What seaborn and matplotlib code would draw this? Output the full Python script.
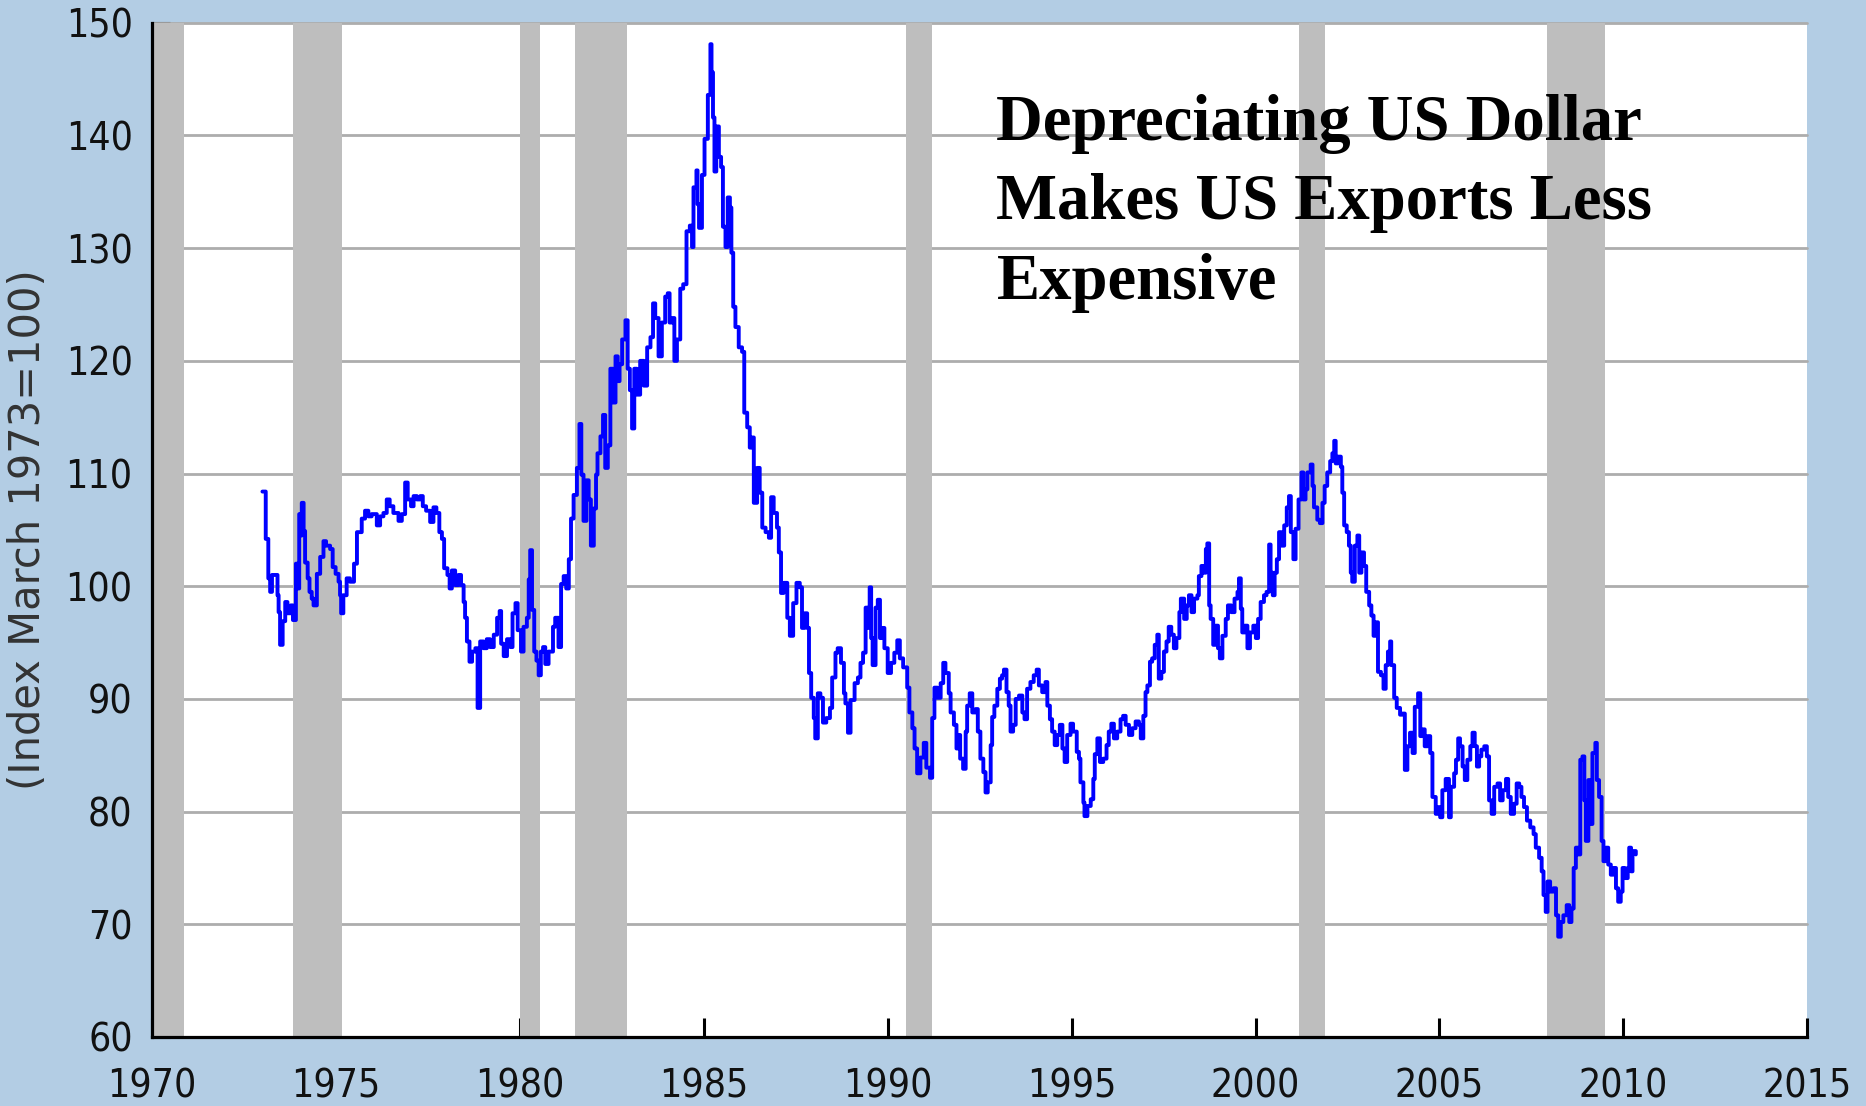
import matplotlib
matplotlib.use("Agg")
import numpy as np
import pandas as pd
import seaborn as sns
from matplotlib import pyplot as plt

# trade weighted dollar index (decimal year, index value)
years = [
    1973.00, 1973.07, 1973.09, 1973.16, 1973.21, 1973.26, 1973.35, 1973.41, 1973.44, 1973.48,
    1973.55, 1973.62, 1973.68, 1973.77, 1973.83, 1973.91, 1973.95, 1974.00, 1974.04, 1974.07,
    1974.12, 1974.16, 1974.23, 1974.28, 1974.34, 1974.39, 1974.48, 1974.57, 1974.66, 1974.73,
    1974.84, 1974.91, 1974.99, 1975.07, 1975.11, 1975.14, 1975.20, 1975.29, 1975.38, 1975.49,
    1975.57, 1975.70, 1975.79, 1975.88, 1975.97, 1976.11, 1976.20, 1976.29, 1976.38, 1976.46,
    1976.56, 1976.70, 1976.79, 1976.88, 1976.95, 1977.04, 1977.11, 1977.20, 1977.29, 1977.36,
    1977.45, 1977.56, 1977.65, 1977.73, 1977.81, 1977.88, 1977.94, 1978.03, 1978.09, 1978.15,
    1978.24, 1978.33, 1978.40, 1978.47, 1978.51, 1978.56, 1978.63, 1978.70, 1978.79, 1978.85,
    1978.92, 1979.01,
    1979.10, 1979.19, 1979.29, 1979.38, 1979.45, 1979.49, 1979.56, 1979.65, 1979.74, 1979.80,
    1979.88, 1979.94, 1980.03, 1980.10, 1980.19, 1980.24, 1980.28, 1980.33, 1980.39, 1980.45,
    1980.51, 1980.57, 1980.63, 1980.69, 1980.78, 1980.90, 1980.96, 1981.05, 1981.12, 1981.19,
    1981.26, 1981.33, 1981.39, 1981.46, 1981.55, 1981.62, 1981.67, 1981.73, 1981.81, 1981.87,
    1981.93, 1982.01, 1982.07, 1982.11, 1982.19, 1982.26, 1982.32, 1982.39, 1982.46, 1982.53,
    1982.60, 1982.66, 1982.71, 1982.78, 1982.87, 1982.93, 1982.99, 1983.05, 1983.11, 1983.18,
    1983.27, 1983.37, 1983.46, 1983.55, 1983.62, 1983.68, 1983.77, 1983.86, 1983.95, 1984.02,
    1984.07, 1984.14, 1984.20, 1984.27, 1984.36, 1984.44, 1984.53, 1984.62, 1984.68, 1984.72,
    1984.80, 1984.83, 1984.87, 1984.95, 1985.02, 1985.11, 1985.18,
    1985.21, 1985.25, 1985.29, 1985.34, 1985.41, 1985.47, 1985.52, 1985.59, 1985.65, 1985.71,
    1985.75, 1985.80, 1985.86, 1985.95, 1986.04, 1986.10, 1986.18, 1986.25, 1986.31, 1986.36,
    1986.45, 1986.52, 1986.59, 1986.68, 1986.77, 1986.83, 1986.90, 1986.99, 1987.04, 1987.10,
    1987.17, 1987.27, 1987.34, 1987.43, 1987.52, 1987.61, 1987.67, 1987.74, 1987.81, 1987.86,
    1987.92, 1987.99, 1988.03, 1988.10, 1988.17, 1988.24, 1988.33, 1988.43, 1988.49, 1988.58,
    1988.64, 1988.73, 1988.81, 1988.85, 1988.92, 1988.99, 1989.10, 1989.19, 1989.26, 1989.33,
    1989.40, 1989.46, 1989.51, 1989.55, 1989.59, 1989.67, 1989.73, 1989.79, 1989.85, 1989.91,
    1990.00, 1990.09, 1990.18, 1990.26, 1990.33, 1990.42, 1990.53, 1990.59, 1990.67, 1990.73,
    1990.80, 1990.89, 1990.98, 1991.05, 1991.15, 1991.21, 1991.27, 1991.35, 1991.44, 1991.51,
    1991.57, 1991.66,
    1991.71, 1991.80, 1991.87, 1991.93, 1991.97, 1992.05, 1992.12, 1992.16, 1992.23, 1992.30,
    1992.39, 1992.45, 1992.52, 1992.60, 1992.66, 1992.72, 1992.80, 1992.84, 1992.90, 1992.98,
    1993.05, 1993.11, 1993.16, 1993.23, 1993.29, 1993.34, 1993.41, 1993.48, 1993.57, 1993.66,
    1993.72, 1993.79, 1993.88, 1993.97, 1994.05, 1994.11, 1994.20, 1994.29, 1994.34, 1994.41,
    1994.47, 1994.54, 1994.61, 1994.68, 1994.75, 1994.81, 1994.88, 1994.97, 1995.04, 1995.14,
    1995.20, 1995.24, 1995.32, 1995.35, 1995.43, 1995.52, 1995.59, 1995.63, 1995.70, 1995.77,
    1995.86, 1995.95, 1996.01, 1996.08, 1996.15, 1996.24, 1996.33, 1996.40, 1996.47, 1996.56,
    1996.65, 1996.74, 1996.83, 1996.88, 1996.95, 1997.01, 1997.06, 1997.13, 1997.19, 1997.26,
    1997.33, 1997.37, 1997.44, 1997.51, 1997.58, 1997.64, 1997.71, 1997.78, 1997.85, 1997.93,
    1997.97, 1998.06, 1998.13, 1998.19, 1998.26, 1998.33, 1998.42, 1998.46, 1998.53, 1998.58,
    1998.65, 1998.69, 1998.74, 1998.78, 1998.85, 1998.92, 1998.98, 1999.03, 1999.10, 1999.19,
    1999.25, 1999.34, 1999.43, 1999.51, 1999.55, 1999.60, 1999.64, 1999.71, 1999.78, 1999.85,
    1999.94, 2000.01, 2000.07, 2000.14, 2000.23, 2000.30, 2000.37, 2000.41, 2000.47, 2000.52,
    2000.58, 2000.64, 2000.70, 2000.78, 2000.85, 2000.91, 2000.96, 2001.03, 2001.09, 2001.17,
    2001.25, 2001.30, 2001.36, 2001.41, 2001.50, 2001.55, 2001.59, 2001.68, 2001.75, 2001.82,
    2001.88, 2001.95, 2002.03, 2002.09, 2002.14, 2002.18, 2002.24, 2002.32, 2002.36, 2002.41,
    2002.48, 2002.54, 2002.59, 2002.63, 2002.70, 2002.77, 2002.82, 2002.88, 2002.95, 2003.01,
    2003.09, 2003.15, 2003.21, 2003.27, 2003.33, 2003.41, 2003.48, 2003.54, 2003.60, 2003.66,
    2003.69, 2003.77, 2003.84, 2003.93,
    2003.99, 2004.06, 2004.13, 2004.20, 2004.27, 2004.33, 2004.42, 2004.48, 2004.54, 2004.60,
    2004.68, 2004.75, 2004.81, 2004.90, 2004.97, 2005.02, 2005.08, 2005.17, 2005.26, 2005.31,
    2005.40, 2005.45, 2005.51, 2005.56, 2005.63, 2005.69, 2005.76, 2005.84, 2005.90, 2005.96,
    2006.02, 2006.08, 2006.14, 2006.22, 2006.29, 2006.35, 2006.42, 2006.49, 2006.58, 2006.65,
    2006.72, 2006.81, 2006.87, 2006.94, 2007.03, 2007.10, 2007.17, 2007.23, 2007.30, 2007.38,
    2007.47, 2007.56, 2007.62, 2007.71, 2007.78, 2007.83, 2007.89, 2007.94, 2008.01, 2008.10,
    2008.17, 2008.23, 2008.30, 2008.37, 2008.46, 2008.53, 2008.59, 2008.65, 2008.71, 2008.77,
    2008.83, 2008.89, 2008.94, 2008.98, 2009.05, 2009.10, 2009.16, 2009.24, 2009.28, 2009.34,
    2009.41, 2009.46, 2009.53, 2009.59, 2009.66, 2009.73, 2009.80, 2009.86, 2009.93, 2009.98,
    2010.04, 2010.12, 2010.16, 2010.21, 2010.25, 2010.34,
]
index_vals = [
    108.4, 108.4, 104.2, 100.7, 99.5, 101.0, 101.0, 99.2, 97.7, 94.8,
    96.9, 98.6, 97.6, 98.3, 97.0, 102.0, 99.8, 106.4, 104.5, 107.4,
    104.9, 102.1, 100.7, 99.5, 98.9, 98.3, 101.1, 102.6, 104.0, 103.6,
    103.3, 101.7, 101.1, 100.4, 99.2, 97.6, 99.2, 100.7, 100.4, 102.0,
    104.8, 106.0, 106.7, 106.2, 106.4, 105.4, 106.2, 106.5, 107.7, 107.1,
    106.5, 105.8, 106.4, 109.2, 107.7, 107.1, 108.0, 107.7, 108.0, 107.1,
    106.7, 105.7, 107.0, 106.5, 104.8, 104.2, 101.6, 101.0, 99.8, 101.4,
    100.1, 101.0, 100.1, 98.6, 97.2, 95.1, 93.3, 94.2, 94.5, 89.2,
    95.1, 94.5,
    95.3, 94.6, 95.7, 97.2, 97.8, 94.9, 93.8, 95.3, 94.6, 97.6,
    98.5, 96.1, 94.2, 96.4, 97.2, 100.6, 103.2, 97.9, 94.2, 93.4,
    92.1, 94.2, 94.6, 93.1, 94.2, 96.4, 97.2, 94.6, 100.2, 100.9,
    99.8, 102.4, 106.0, 108.1, 110.5, 114.4, 109.9, 105.8, 109.4, 107.7,
    103.6, 106.9, 109.9, 111.8, 113.3, 115.2, 110.5, 112.5, 119.3, 116.3,
    120.4, 118.2, 119.7, 121.9, 123.6, 119.3, 117.4, 114.0, 119.3, 117.0,
    120.0, 117.8, 121.2, 122.1, 125.1, 123.8, 120.4, 123.4, 125.7, 126.0,
    123.4, 123.8, 120.0, 121.9, 126.4, 126.8, 131.5, 132.0, 130.1, 135.4,
    136.9, 133.9, 131.8, 136.5, 139.7, 143.6, 148.1,
    145.6, 141.6, 136.8, 140.8, 138.1, 137.2, 131.9, 130.1, 134.5, 133.6,
    129.6, 124.8, 123.0, 121.2, 120.8, 115.4, 114.1, 112.3, 113.2, 107.4,
    110.5, 108.3, 105.2, 104.8, 104.3, 107.9, 106.5, 105.2, 103.0, 99.4,
    100.3, 97.2, 95.6, 98.5, 100.3, 99.9, 96.3, 97.6, 96.3, 92.3,
    90.1, 88.3, 86.5, 90.5, 90.1, 87.9, 88.3, 89.2, 91.9, 94.1,
    94.5, 93.2, 90.5, 89.6, 87.0, 89.9, 91.4, 91.9, 93.2, 94.1,
    98.1, 96.3, 99.9, 95.4, 93.0, 98.1, 98.8, 95.4, 96.3, 94.5,
    92.3, 93.2, 94.1, 95.2, 93.6, 92.8, 91.0, 88.8, 87.4, 85.6,
    83.4, 84.8, 86.1, 83.9, 83.0, 88.3, 91.0, 90.1, 91.4, 93.2,
    92.3, 90.5,
    88.8, 87.7, 85.6, 86.8, 84.7, 83.8, 87.1, 89.4, 90.5, 88.8,
    89.1, 87.1, 84.7, 83.5, 81.7, 82.6, 85.9, 88.4, 89.4, 90.9,
    91.8, 92.1, 92.6, 90.6, 89.4, 87.1, 87.7, 90.0, 90.3, 88.8,
    88.2, 90.9, 91.5, 92.1, 92.6, 91.2, 90.6, 91.5, 89.4, 88.2,
    87.1, 85.9, 86.8, 87.7, 85.6, 84.4, 86.8, 87.8, 87.1, 85.3,
    84.7, 82.6, 80.8, 79.6, 80.5, 81.1, 82.9, 85.1, 86.5, 84.4,
    84.7, 85.9, 87.1, 87.8, 86.5, 87.1, 88.2, 88.5, 87.7, 86.8,
    87.4, 88.0, 87.7, 86.5, 88.5, 90.6, 91.2, 93.3, 93.6, 94.8,
    95.7, 91.8, 92.4, 94.2, 95.1, 96.4, 95.7, 94.5, 95.4, 97.7,
    98.9, 97.1, 98.3, 99.2, 97.7, 98.9, 99.2, 100.9, 101.8, 101.2,
    103.3, 103.8, 98.3, 97.1, 94.8, 96.5, 94.5, 93.6, 95.6, 97.1,
    98.3, 97.7, 98.9, 99.5, 100.7, 98.0, 95.9, 96.5, 94.5, 95.9,
    96.5, 95.4, 97.1, 98.6, 99.2, 99.5, 103.7, 101.2, 99.2, 101.2,
    102.4, 104.8, 103.6, 105.4, 107.0, 108.0, 104.8, 102.4, 105.1, 107.7,
    110.1, 107.7, 108.6, 110.1, 110.8, 108.9, 107.0, 105.9, 105.6, 107.4,
    108.9, 110.1, 111.1, 111.8, 112.9, 110.9, 111.5, 110.6, 108.3, 105.4,
    104.8, 103.6, 101.2, 100.4, 103.6, 104.5, 101.2, 103.0, 101.8, 99.5,
    98.3, 97.4, 95.6, 96.8, 92.4, 92.1, 90.9, 93.0, 94.2, 95.1,
    93.0, 90.1, 89.2, 88.6,
    88.7, 83.7, 85.8, 87.0, 85.2, 89.3, 90.5, 86.7, 87.3, 85.8,
    86.7, 85.2, 81.3, 79.8, 80.4, 79.5, 81.9, 82.9, 79.5, 82.2,
    83.4, 84.6, 86.5, 85.8, 84.0, 82.8, 84.6, 85.8, 87.0, 85.8,
    84.0, 84.9, 85.5, 85.8, 84.9, 81.0, 79.8, 82.2, 82.5, 81.0,
    81.9, 82.9, 81.3, 79.8, 80.7, 82.5, 82.2, 81.3, 80.4, 79.2,
    78.6, 78.0, 76.8, 75.9, 74.7, 72.6, 71.1, 73.8, 72.9, 73.2,
    70.8, 68.9, 70.2, 70.8, 71.7, 70.2, 71.4, 75.0, 76.8, 76.2,
    84.6, 84.9, 81.0, 77.4, 82.8, 78.9, 85.2, 86.1, 82.8, 81.3,
    77.4, 75.6, 76.8, 75.3, 74.4, 75.0, 73.2, 72.0, 72.9, 75.0,
    74.1, 75.0, 76.8, 74.7, 76.5, 76.2,
]

# recessions (start, end) in decimal years
rec_start = [1969.92, 1973.83, 1980.00, 1981.50, 1990.50, 2001.17, 2007.92]
rec_end = [1970.87, 1975.17, 1980.55, 1982.90, 1991.20, 2001.90, 2009.50]

title_txt = "Depreciating US Dollar\nMakes US Exports Less\nExpensive"
ylab = "(Index March 1973=100)"

df = pd.DataFrame({"year": years, "value": index_vals})

sns.set_theme(style="white")
plt.rcParams["font.family"] = ["DejaVu Sans"]

bg = "#b3cde4"
fig = plt.figure(figsize=(18.66, 11.06), dpi=100, facecolor=bg)
ax = fig.add_axes([0.0815, 0.0624, 0.887, 0.917])
ax.set_facecolor("white")

# grid first, recession bars over it, then the series
for v in range(70, 151, 10):
    ax.axhline(v, color="#adadad", lw=2.0, zorder=1, clip_on=False)
for s, e in zip(rec_start, rec_end):
    ax.axvspan(s, e, color="#bebebe", lw=0, zorder=2)

sns.lineplot(data=df, x="year", y="value", ax=ax, color="#0000ff", lw=2.8,
             drawstyle="steps-post", estimator=None, sort=False, zorder=3)

ax.set_xlim(1970, 2015)
ax.set_ylim(60, 150)
ax.set_xticks(range(1970, 2016, 5))
ax.set_yticks(range(60, 151, 10))

for side in ["top", "right"]:
    ax.spines[side].set_visible(False)
for side in ["left", "bottom"]:
    ax.spines[side].set_color("black")
    ax.spines[side].set_linewidth(2.3)
    ax.spines[side].set_zorder(5)

ax.tick_params(axis="y", direction="in", length=13, width=2.2, color="black",
               pad=14, labelsize=28, labelcolor="#111111", left=True)
ax.tick_params(axis="x", direction="in", length=14, width=2.2, color="black",
               pad=22, labelsize=28, labelcolor="#111111", bottom=True)
for lab in ax.get_xticklabels() + ax.get_yticklabels():
    lab.set_fontstretch("condensed")

ax.set_xlabel("")
ax.set_ylabel(ylab, fontsize=30, color="#333333")
ax.yaxis.set_label_coords(-0.062, 0.5)

fig.text(0.534, 0.915, title_txt, ha="left", va="top", fontsize=46.5,
         fontweight="bold", family=["Liberation Serif", "DejaVu Serif"],
         linespacing=1.42, color="black")

fig.savefig("out.png", dpi=100, facecolor=bg)
